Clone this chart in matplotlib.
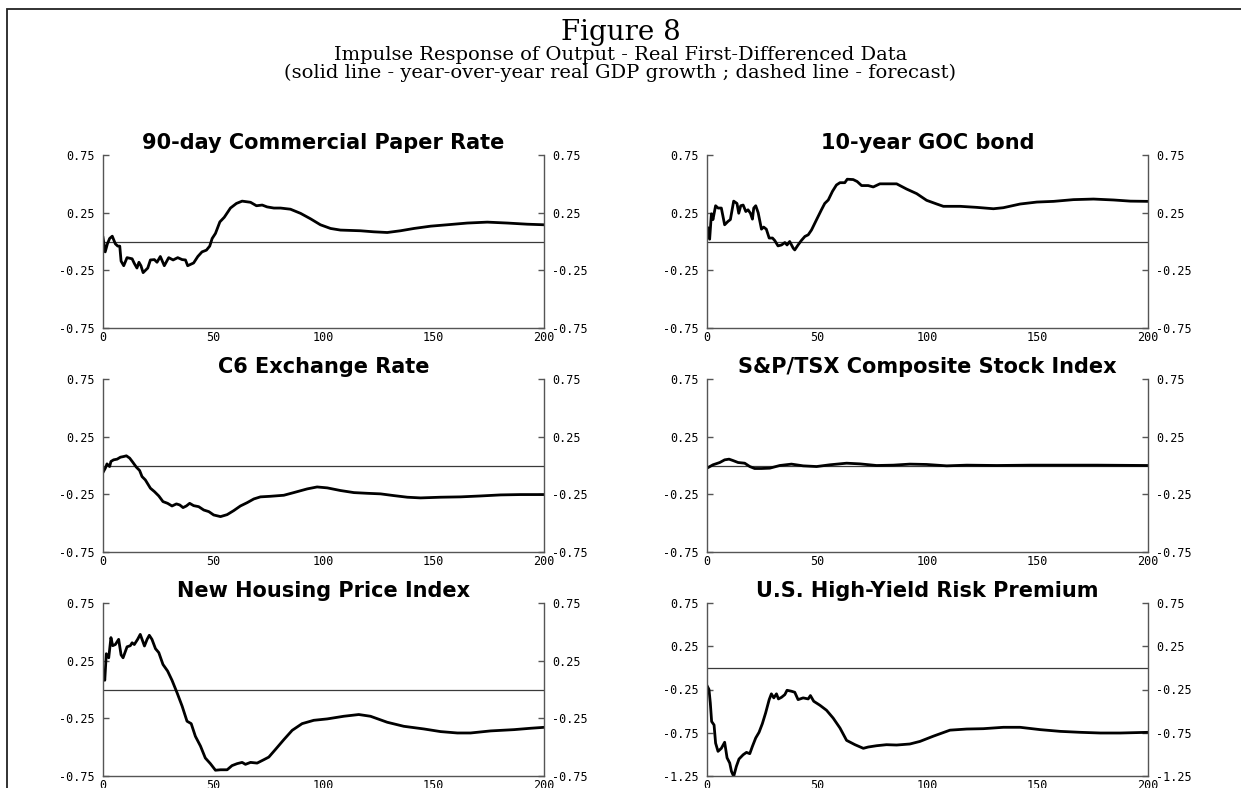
import matplotlib
matplotlib.use("Agg")
import matplotlib.pyplot as plt
from matplotlib.patches import Rectangle

# impulse responses (horizon, response)
cp_t = [0, 1, 2, 3, 4.2, 5.6, 6.7, 7.6, 8.2, 9.4, 10.9, 13.2, 14.2, 15.4, 16.3, 17.2, 18.2, 20.3,
        21.5, 23.3, 24.5, 26, 27.8, 29.8, 31.8, 33.9, 35.9, 37.4, 38.4, 41.1, 43, 44.9, 46.9, 48.4,
        49.5, 51, 53, 55, 57.8, 60.5, 63.1, 66.9, 69.6, 72.2, 74.4, 77.5, 80.5, 85, 89.6, 94.1, 98.6,
        103.2, 107.7, 116.8, 122.8, 128.9, 134.9, 141, 148.6, 156.1, 165.2, 174.3, 183.4, 192.4, 200]
cp_v = [0.035, -0.09, -0.02, 0.026, 0.046, -0.02, -0.04, -0.04, -0.17, -0.21, -0.14, -0.15, -0.19,
        -0.23, -0.18, -0.21, -0.27, -0.23, -0.16, -0.157, -0.18, -0.13, -0.21, -0.14, -0.16, -0.14,
        -0.157, -0.16, -0.21, -0.186, -0.13, -0.09, -0.075, -0.04, 0.026, 0.07, 0.17, 0.21, 0.29, 0.33,
        0.35, 0.34, 0.31, 0.316, 0.30, 0.29, 0.29, 0.28, 0.244, 0.197, 0.145, 0.113, 0.099, 0.093,
        0.084, 0.078, 0.093, 0.113, 0.133, 0.145, 0.16, 0.168, 0.16, 0.15, 0.145]

goc_t = [0, 0.6, 1.2, 2, 2.7, 3.9, 5, 6.5, 8, 9.5, 10.6, 12.1, 13.6, 14.4, 15.3, 16.4, 17.6, 18.6,
         19.7, 20.6, 21.2, 22.1, 23.2, 24.7, 25.7, 26.9, 28.2, 29.7, 30.7, 32.2, 33.8, 35.3, 36.3,
         37.5, 39.1, 39.8, 41.3, 42.8, 44.4, 45.9, 47.4, 49.7, 51.9, 53.4, 55, 56.9, 58.7, 60.3, 62.5,
         63.6, 66.3, 68.1, 70.1, 73.1, 75.4, 78.4, 82.2, 86, 90.5, 95.1, 99.6, 104.2, 107.2, 114.8,
         122.3, 129.9, 134.4, 142, 149.6, 157.2, 166.2, 175.3, 184.4, 192, 200]
goc_v = [0.125, 0.116, 0.02, 0.24, 0.19, 0.31, 0.29, 0.29, 0.145, 0.174, 0.19, 0.35, 0.33, 0.245,
         0.31, 0.316, 0.26, 0.275, 0.245, 0.194, 0.29, 0.31, 0.25, 0.107, 0.125, 0.107, 0.03, 0.03,
         0.009, -0.038, -0.03, -0.009, -0.03, 0.0, -0.058, -0.073, -0.03, 0.009, 0.044, 0.058, 0.10,
         0.19, 0.275, 0.33, 0.36, 0.435, 0.49, 0.51, 0.51, 0.54, 0.537, 0.52, 0.485, 0.485, 0.473,
         0.50, 0.50, 0.50, 0.455, 0.415, 0.357, 0.325, 0.305, 0.305, 0.296, 0.284, 0.293, 0.325,
         0.342, 0.348, 0.363, 0.368, 0.36, 0.35, 0.348]

c6_t = [0, 1.06, 1.8, 3, 3.6, 4.8, 6.4, 7.9, 9.4, 10.6, 12.1, 13.6, 15.1, 16.6, 17.7, 19.2, 21.5,
        23.3, 25.3, 27.2, 29.3, 31.3, 33.3, 34.8, 36.3, 37.8, 39.3, 41.1, 43.4, 45.7, 48, 50.2, 53.3,
        56.3, 59.3, 62.3, 65.4, 68.4, 71.4, 75.9, 82, 86.5, 92.6, 97.1, 101.7, 107.7, 113.8, 119.8,
        125.9, 131.9, 138, 144, 153.1, 162.2, 171.3, 180.3, 189.4, 200]
c6_v = [-0.06, -0.023, 0.014, -0.009, 0.035, 0.049, 0.055, 0.072, 0.078, 0.084, 0.064, 0.026, -0.014,
        -0.043, -0.096, -0.125, -0.197, -0.226, -0.264, -0.313, -0.328, -0.351, -0.333, -0.342, -0.365,
        -0.351, -0.328, -0.348, -0.357, -0.386, -0.40, -0.429, -0.443, -0.426, -0.391, -0.351, -0.322,
        -0.29, -0.272, -0.267, -0.258, -0.235, -0.203, -0.186, -0.194, -0.217, -0.235, -0.241, -0.246,
        -0.261, -0.275, -0.281, -0.275, -0.272, -0.264, -0.255, -0.252, -0.252]

tsx_t = [0, 2.7, 5.8, 8, 10, 11.8, 14.1, 17.1, 19.4, 21.6, 24.7, 28.5, 33, 38.3, 43.6, 49.7, 55.7,
         63.3, 69.4, 76.9, 84.5, 92, 99.6, 108.7, 117.8, 131.4, 146.6, 161.7, 176.8, 200]
tsx_v = [-0.023, 0.006, 0.026, 0.049, 0.055, 0.043, 0.026, 0.02, -0.009, -0.026, -0.026, -0.023, 0.0,
         0.012, -0.003, -0.009, 0.006, 0.02, 0.014, 0.0, 0.003, 0.012, 0.009, -0.003, 0.003, 0.0,
         0.003, 0.003, 0.003, 0.0]

hp_t = [0, 0.8, 1.5, 2.6, 3.6, 4.4, 5.6, 7.1, 8.2, 9.1, 10.9, 12.4, 13.2, 14.2, 15.7, 16.9, 18.8, 20,
        21, 22.2, 23.8, 25.3, 27.2, 29.3, 31.3, 33.6, 35.9, 38.1, 40, 41.9, 44.2, 46.4, 48.7, 51, 53.3,
        56.3, 58.5, 60.8, 63.1, 64.6, 66.9, 69.9, 72.9, 75.2, 78.2, 82, 85.8, 90.3, 95.6, 101.7, 109.2,
        116, 121.3, 128.9, 136.4, 145.5, 153.1, 160.7, 166.7, 175.8, 186.4, 194, 200]
hp_v = [0.16, 0.08, 0.31, 0.275, 0.45, 0.38, 0.39, 0.435, 0.30, 0.275, 0.37, 0.38, 0.405, 0.39, 0.435,
        0.478, 0.377, 0.435, 0.47, 0.435, 0.354, 0.32, 0.217, 0.16, 0.08, -0.029, -0.145, -0.275,
        -0.296, -0.406, -0.49, -0.594, -0.643, -0.70, -0.696, -0.696, -0.66, -0.643, -0.632, -0.649,
        -0.632, -0.638, -0.609, -0.586, -0.52, -0.435, -0.354, -0.296, -0.267, -0.255, -0.232, -0.217,
        -0.232, -0.284, -0.319, -0.342, -0.365, -0.377, -0.377, -0.359, -0.348, -0.336, -0.328]

hy_t = [0, 0.9, 1.5, 2.1, 3.2, 3.9, 5, 6.5, 8, 9.1, 10.3, 11.1, 12.1, 13.3, 14.5, 16.4, 17.9, 19.4,
        20.6, 22.1, 23.6, 25.1, 26.6, 28.2, 29.2, 30.3, 31.5, 32.4, 33.8, 35.3, 36.3, 38.3, 39.8, 41.3,
        43.6, 45.9, 46.9, 48.4, 51.2, 54.2, 57.2, 60.3, 63.3, 67.1, 70.9, 73.1, 76.9, 81.4, 86, 92,
        96.6, 102.6, 110.2, 117.8, 125.3, 134.4, 142, 151.1, 160.2, 169.3, 178.4, 187.4, 200]
hy_v = [-0.205, -0.25, -0.405, -0.62, -0.66, -0.87, -0.965, -0.93, -0.86, -1.04, -1.10, -1.197,
        -1.255, -1.14, -1.054, -1.004, -0.977, -0.992, -0.907, -0.81, -0.745, -0.645, -0.52, -0.367,
        -0.30, -0.347, -0.30, -0.359, -0.34, -0.309, -0.259, -0.27, -0.282, -0.367, -0.347, -0.359,
        -0.32, -0.386, -0.432, -0.49, -0.58, -0.695, -0.838, -0.888, -0.93, -0.915, -0.90, -0.888,
        -0.892, -0.88, -0.85, -0.79, -0.72, -0.707, -0.703, -0.687, -0.687, -0.714, -0.734, -0.745,
        -0.753, -0.753, -0.745]

titles = ["90-day Commercial Paper Rate", "10-year GOC bond", "C6 Exchange Rate",
          "S&P/TSX Composite Stock Index", "New Housing Price Index", "U.S. High-Yield Risk Premium"]
series = [(cp_t, cp_v), (goc_t, goc_v), (c6_t, c6_v), (tsx_t, tsx_v), (hp_t, hp_v), (hy_t, hy_v)]
yticks_std = [0.75, 0.25, -0.25, -0.75]
yticks_hy = [0.75, 0.25, -0.25, -0.75, -1.25]
xticks = [0, 50, 100, 150, 200]

W, H = 1241, 788
fig = plt.figure(figsize=(W / 100, H / 100), dpi=100)

# outer frame of the page (cut off at right and bottom)
fig.patches.append(Rectangle((7 / W, -0.1), 1.2, 1 - 9 / H + 0.1, transform=fig.transFigure,
                             fill=False, edgecolor="#222222", linewidth=1.3))

fig.text(0.5, 1 - 33 / H, "Figure 8", ha="center", va="center",
         fontfamily="DejaVu Serif", fontsize=20)
fig.text(0.5, 1 - 54.5 / H, "Impulse Response of Output - Real First-Differenced Data",
         ha="center", va="center", fontfamily="DejaVu Serif", fontsize=14)
fig.text(0.5, 1 - 73 / H,
         "(solid line - year-over-year real GDP growth ; dashed line - forecast)",
         ha="center", va="center", fontfamily="DejaVu Serif", fontsize=14)

lefts = [103, 707]
tops = [155, 379, 603]
aw, ah = 441, 173

for i in range(6):
    r, c = divmod(i, 2)
    ax = fig.add_axes([lefts[c] / W, 1 - (tops[r] + ah) / H, aw / W, ah / H])
    t, v = series[i]
    yt = yticks_hy if i == 5 else yticks_std
    ax.axhline(0, color="#3a3a3a", linewidth=0.9)
    ax.plot(t, v, color="black", linewidth=2.0)
    ax.set_xlim(0, 200)
    ax.set_ylim(min(yt), max(yt))
    ax.set_xticks(xticks)
    ax.set_yticks(yt)
    ax.set_yticklabels(["%.2f" % y for y in yt])
    ax.spines["top"].set_visible(False)
    for s in ["left", "right", "bottom"]:
        ax.spines[s].set_color("#555555")
        ax.spines[s].set_linewidth(1.0)
    ax.tick_params(axis="y", which="both", direction="in", length=4, width=1, color="#555555",
                   left=True, right=True, labelleft=True, labelright=True, pad=6)
    ax.tick_params(axis="x", length=0, pad=2)
    for lab in ax.get_xticklabels() + ax.get_yticklabels():
        lab.set_fontfamily("DejaVu Sans Mono")
        lab.set_fontsize(8.5)
    ax.set_title(titles[i], fontfamily="DejaVu Sans", fontweight="bold", fontsize=15, pad=4)

fig.savefig("out.png", dpi=100)
